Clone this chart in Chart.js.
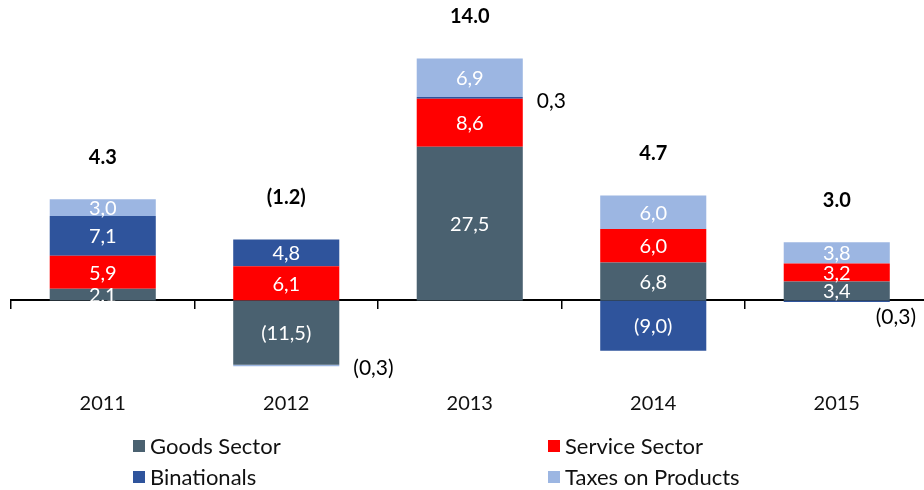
<!DOCTYPE html>
<html><head><meta charset="utf-8">
<style>html,body{margin:0;padding:0;overflow:hidden;background:#fff}#wrap{width:930px;height:490px}</style>
<script src="https://cdn.jsdelivr.net/npm/chart.js@4.4.0/dist/chart.umd.min.js"></script>
</head><body>
<div id="wrap"><canvas id="c" width="930" height="490"></canvas></div>
<script>
const categories = ['2011', '2012', '2013', '2014', '2015'];
const goodsSector = [2.1, -11.5, 27.5, 6.8, 3.4];
const serviceSector = [5.9, 6.1, 8.6, 6.0, 3.2];
const binationals = [7.1, 4.8, 0.3, -9.0, -0.3];
const taxesOnProducts = [3.0, -0.3, 6.9, 6.0, 3.8];
const totals = [4.3, -1.2, 14.0, 4.7, 3.0];
const seriesNames = ['Goods Sector', 'Service Sector', 'Binationals', 'Taxes on Products'];
const seriesColors = ['#4a6170', '#ff0000', '#2f549c', '#9cb6e2'];

const FONT = 'Lato, "Open Sans", sans-serif';

function fmtSeg(v) {
  const s = Math.abs(v).toFixed(1).replace('.', ',');
  return v < 0 ? '(' + s + ')' : s;
}
function fmtTot(v) {
  const s = Math.abs(v).toFixed(1);
  return v < 0 ? '(' + s + ')' : s;
}

const labelPlugin = {
  id: 'labels',
  afterDatasetsDraw(chart) {
    const ctx = chart.ctx;
    ctx.save();
    ctx.textBaseline = 'middle';
    chart.data.datasets.forEach((ds, i) => {
      const meta = chart.getDatasetMeta(i);
      meta.data.forEach((el, j) => {
        const v = ds.data[j];
        const p = el.getProps(['x', 'y', 'base', 'width'], true);
        const cy = (p.y + p.base) / 2;
        if (Math.abs(v) >= 1) {
          ctx.font = '20px ' + FONT;
          ctx.fillStyle = '#ffffff';
          ctx.textAlign = 'center';
          ctx.fillText(fmtSeg(v), p.x, cy + 1);
        } else {
          ctx.font = '21px ' + FONT;
          ctx.fillStyle = '#000000';
          ctx.textAlign = 'left';
          const txt = fmtSeg(v);
          const w = ctx.measureText(txt).width;
          let x = p.x + p.width / 2 + 14;
          let y = cy + 3;
          if (x + w > chart.width - 14) {
            x = chart.width - 14 - w;
            y = Math.max(p.y, p.base) + 15;
          }
          ctx.fillText(txt, x, y);
        }
      });
    });
    // totals
    ctx.font = 'bold 20px ' + FONT;
    ctx.fillStyle = '#000000';
    ctx.textAlign = 'center';
    categories.forEach((c, j) => {
      let top = Infinity, x = 0;
      chart.data.datasets.forEach((ds, i) => {
        const el = chart.getDatasetMeta(i).data[j];
        const p = el.getProps(['x', 'y', 'base'], true);
        top = Math.min(top, p.y, p.base);
        x = p.x;
      });
      ctx.fillText(fmtTot(totals[j]), x, top - 42);
    });
    ctx.restore();
  },
  afterDraw(chart) {
    const ctx = chart.ctx;
    ctx.save();
    ctx.font = '22px ' + FONT;
    ctx.textBaseline = 'middle';
    ctx.textAlign = 'left';
    const cols = [133, 548];
    const rows = [chart.height - 44, chart.height - 13];
    chart.data.datasets.forEach((ds, i) => {
      const x = cols[i % 2], y = rows[Math.floor(i / 2)];
      ctx.fillStyle = ds.backgroundColor;
      ctx.fillRect(x, y - 6, 12, 12);
      ctx.fillStyle = '#111111';
      ctx.fillText(ds.label, x + 17, y + 1);
    });
    ctx.restore();
  }
};

const seriesData = [goodsSector, serviceSector, binationals, taxesOnProducts];

new Chart(document.getElementById('c'), {
  type: 'bar',
  data: {
    labels: categories,
    datasets: seriesData.map((d, i) => ({
      label: seriesNames[i],
      data: d,
      backgroundColor: seriesColors[i],
      borderWidth: 0,
      barPercentage: 0.578,
      categoryPercentage: 1.0
    }))
  },
  options: {
    responsive: false,
    animation: false,
    layout: { padding: { top: 55, left: 11, right: 1.5, bottom: 70.8 } },
    plugins: { legend: { display: false }, tooltip: { enabled: false } },
    scales: {
      x: {
        stacked: true,
        position: 'bottom',
        offset: true,
        grid: { display: false },
        border: { display: false },
        ticks: { color: '#111', font: { size: 20, family: FONT }, padding: 4, maxRotation: 0 }
      },
      x2: {
        type: 'category',
        labels: categories,
        position: { y: 0 },
        offset: true,
        grid: { display: true, drawOnChartArea: false, drawTicks: true, tickLength: 8, color: '#000', lineWidth: 1.5, offset: true },
        border: { display: true, color: '#000', width: 2 },
        ticks: { display: false }
      },
      y: {
        stacked: true,
        display: false,
        min: -14.1,
        max: 43.93
      }
    }
  },
  plugins: [labelPlugin]
});
</script>
</body></html>
